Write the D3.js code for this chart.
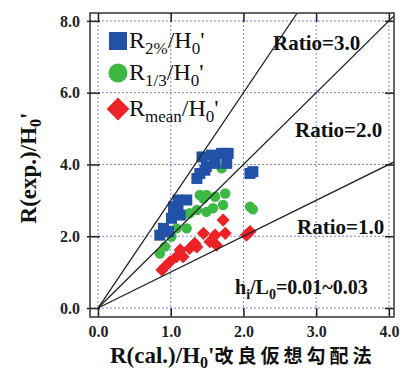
<!DOCTYPE html>
<html>
<head>
<meta charset="utf-8">
<script src="https://cdn.jsdelivr.net/npm/d3@7"></script>
<style>
  body { margin: 0; background: #fff; }
  svg text { font-family: "Liberation Serif", "Times New Roman", serif; }
  .tick text { font-weight: bold; font-size: 16px; fill: #222; }
  .axTitle { font-weight: bold; font-size: 23px; fill: #111; }
  .note { font-weight: bold; font-size: 21px; fill: #111; }
  .leg { font-size: 24px; fill: #111; }
</style>
</head>
<body>
<script>
// data: [R(cal.)/H0', R(exp.)/H0']
var r2 = [[0.85,2.03],[0.90,2.22],[0.97,2.13],[1.01,2.50],[1.04,2.73],[1.13,2.59],[1.04,2.82],
  [1.10,3.01],[1.22,3.01],[1.10,2.78],[1.36,3.61],[1.40,3.75],[1.47,3.84],[1.49,3.94],[1.43,4.21],
  [1.56,4.26],[1.61,4.03],[1.70,4.31],[1.79,4.31],[1.77,4.03],[2.09,3.75],[2.13,3.80]];
var r13 = [[0.85,1.52],[0.92,1.71],[1.01,1.99],[1.08,2.22],[1.22,2.22],[1.17,2.59],[1.26,2.64],
  [1.36,2.73],[1.49,2.68],[1.58,2.78],[1.45,3.05],[1.40,3.15],[1.49,3.15],[1.61,3.10],[1.75,3.19],
  [1.72,2.87],[1.70,3.89],[2.09,2.82],[2.13,2.75]];
var rmean = [[0.88,1.06],[0.92,1.15],[0.99,1.29],[1.08,1.43],[1.17,1.43],[1.13,1.62],[1.26,1.66],
  [1.33,1.80],[1.36,1.70],[1.45,2.08],[1.54,1.85],[1.63,1.75],[1.61,2.03],[1.75,2.08],[1.72,2.45],
  [2.04,2.03],[2.09,2.13]];
var ratios = [1.0, 2.0, 3.0];
var xTicks = [0, 1, 2, 3, 4];
var yTicks = [0, 2, 4, 6, 8];

var W = 402, H = 376;
var m = {left: 90, right: 394, top: 13, bottom: 317};

var svg = d3.select("body").append("svg")
    .attr("width", W)
    .attr("height", H);

var x = d3.scaleLinear().domain([-0.11, 4.07]).range([m.left, m.right]);
var y = d3.scaleLinear().domain([-0.25, 8.22]).range([m.bottom, m.top]);

// dotted grid
svg.append("g").selectAll("line").data(xTicks).enter().append("line")
    .attr("x1", function(d) { return x(d); }).attr("x2", function(d) { return x(d); })
    .attr("y1", m.top).attr("y2", m.bottom)
    .attr("stroke", "#7b86d6").attr("stroke-width", 1).attr("stroke-dasharray", "2,2");
svg.append("g").selectAll("line").data(yTicks).enter().append("line")
    .attr("y1", function(d) { return y(d); }).attr("y2", function(d) { return y(d); })
    .attr("x1", m.left).attr("x2", m.right)
    .attr("stroke", "#7b86d6").attr("stroke-width", 1).attr("stroke-dasharray", "2,2");

svg.append("clipPath").attr("id", "c").append("rect")
    .attr("x", m.left).attr("y", m.top).attr("width", m.right - m.left).attr("height", m.bottom - m.top);
var plot = svg.append("g").attr("clip-path", "url(#c)");

// markers
plot.append("g").selectAll("circle").data(r13).enter().append("circle")
    .attr("cx", function(d) { return x(d[0]); })
    .attr("cy", function(d) { return y(d[1]); })
    .attr("r", 5.2)
    .attr("fill", "#3db843");

plot.append("g").selectAll("rect").data(r2).enter().append("rect")
    .attr("x", function(d) { return x(d[0]) - 5.5; })
    .attr("y", function(d) { return y(d[1]) - 5.5; })
    .attr("width", 11).attr("height", 11)
    .attr("fill", "#2152a8");

plot.append("g").selectAll("path").data(rmean).enter().append("path")
    .attr("d", d3.symbol().type(d3.symbolDiamond2).size(110))
    .attr("transform", function(d) { return "translate(" + x(d[0]) + "," + y(d[1]) + ")"; })
    .attr("fill", "#ec2227");

// ratio lines from origin
plot.append("g").selectAll("line").data(ratios).enter().append("line")
    .attr("x1", x(0)).attr("y1", y(0))
    .attr("x2", function(d) { return x(Math.min(4.07, 8.22 / d)); })
    .attr("y2", function(d) { return y(d * Math.min(4.07, 8.22 / d)); })
    .attr("stroke", "#222").attr("stroke-width", 1.3);

// axes with inner ticks (small outer stub too)
svg.append("g").attr("transform", "translate(0," + m.bottom + ")")
    .call(d3.axisBottom(x).tickValues(xTicks).tickSize(-9).tickPadding(9).tickFormat(d3.format(".1f")))
    .call(function(g) { g.select(".domain").remove(); });
svg.append("g").attr("transform", "translate(0," + m.top + ")")
    .call(d3.axisTop(x).tickValues(xTicks).tickSize(-9).tickFormat(""))
    .call(function(g) { g.select(".domain").remove(); });
svg.append("g").attr("transform", "translate(" + m.left + ",0)")
    .call(d3.axisLeft(y).tickValues(yTicks).tickSize(-10).tickPadding(10).tickFormat(d3.format(".1f")))
    .call(function(g) { g.select(".domain").remove(); })
    .call(function(g) { g.selectAll(".tick line").attr("x1", -3); });
svg.append("g").attr("transform", "translate(" + m.right + ",0)")
    .call(d3.axisRight(y).tickValues(yTicks).tickSize(-9).tickFormat(""))
    .call(function(g) { g.select(".domain").remove(); });
svg.selectAll(".tick line").attr("stroke", "#222").attr("stroke-width", 1.5);

svg.append("rect")
    .attr("x", m.left).attr("y", m.top).attr("width", m.right - m.left).attr("height", m.bottom - m.top)
    .attr("fill", "none").attr("stroke", "#333").attr("stroke-width", 1.5);

// labels on the lines
svg.append("text").attr("class", "note").attr("x", 273).attr("y", 50).text("Ratio=3.0");
svg.append("text").attr("class", "note").attr("x", 295).attr("y", 137).text("Ratio=2.0");
svg.append("text").attr("class", "note").attr("x", 297).attr("y", 234).text("Ratio=1.0");
var hl = svg.append("text").attr("class", "note").attr("x", 235).attr("y", 294)
    .style("font-size", "20px");
hl.append("tspan").text("h");
hl.append("tspan").attr("dy", 5).style("font-size", "14px").text("i");
hl.append("tspan").attr("dy", -5).text("/L");
hl.append("tspan").attr("dy", 5).style("font-size", "14px").text("0");
hl.append("tspan").attr("dy", -5).text("=0.01~0.03");

// legend
var legY = [41, 73, 109];
svg.append("rect").attr("x", 109).attr("y", legY[0] - 9).attr("width", 18).attr("height", 18).attr("fill", "#2152a8");
svg.append("circle").attr("cx", 118).attr("cy", legY[1]).attr("r", 9.5).attr("fill", "#3db843");
svg.append("path").attr("d", d3.symbol().type(d3.symbolDiamond2).size(330))
    .attr("transform", "translate(118," + legY[2] + ")").attr("fill", "#ec2227");

function legText(yy, sub) {
  var t = svg.append("text").attr("class", "leg").attr("x", 129).attr("y", yy + 7);
  t.append("tspan").text("R");
  t.append("tspan").attr("dy", 6).style("font-size", "17px").text(sub);
  t.append("tspan").attr("dy", -6).text("/H");
  t.append("tspan").attr("dy", 6).style("font-size", "17px").text("0");
  t.append("tspan").attr("dy", -6).text("'");
}
legText(legY[0], "2%");
legText(legY[1], "1/3");
legText(legY[2], "mean");

// axis titles
var yt = svg.append("text").attr("class", "axTitle").attr("text-anchor", "middle")
    .attr("transform", "translate(36,168)rotate(-90)");
yt.append("tspan").text("R(exp.)/H");
yt.append("tspan").attr("dy", 5).style("font-size", "16px").text("0");
yt.append("tspan").attr("dy", -5).text("'");

var xt = svg.append("text").attr("class", "axTitle").attr("x", 110).attr("y", 363);
xt.append("tspan").text("R(cal.)/H");
xt.append("tspan").attr("dy", 5).style("font-size", "16px").text("0");
xt.append("tspan").attr("dy", -5).text("'");
xt.append("tspan").style("font-family", "'Noto Sans CJK JP'").style("font-size", "19px")
    .style("letter-spacing", "4px").text("改良仮想勾配法");
</script>
</body>
</html>
